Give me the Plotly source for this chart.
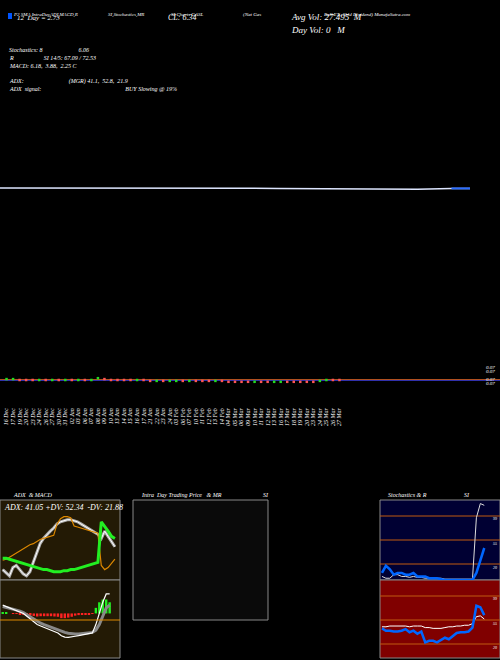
import plotly.graph_objects as go

dates = ["16 Dec", "17 Dec", "19 Dec", "20 Dec", "23 Dec", "24 Dec", "26 Dec", "27 Dec", "30 Dec", "31 Dec",
         "02 Jan", "03 Jan", "06 Jan", "07 Jan", "08 Jan", "09 Jan", "10 Jan", "13 Jan", "14 Jan", "15 Jan",
         "16 Jan", "17 Jan", "21 Jan", "22 Jan", "23 Jan", "24 Jan", "03 Feb", "06 Feb", "07 Feb", "10 Feb",
         "11 Feb", "12 Feb", "13 Feb", "14 Feb", "04 Mar", "05 Mar", "06 Mar", "09 Mar", "10 Mar", "11 Mar",
         "12 Mar", "13 Mar", "16 Mar", "17 Mar", "18 Mar", "19 Mar", "20 Mar", "23 Mar", "24 Mar", "25 Mar",
         "26 Mar", "27 Mar"]
close = [0.0702, 0.0702, 0.0701, 0.0701, 0.0701, 0.0701, 0.0701, 0.0701, 0.0701, 0.0701,
         0.0701, 0.0701, 0.0701, 0.0701, 0.0703, 0.0702, 0.0701, 0.0701, 0.0701, 0.0701,
         0.0701, 0.0701, 0.0700, 0.0700, 0.0700, 0.0700, 0.0700, 0.0700, 0.0700, 0.0700,
         0.0700, 0.0700, 0.0700, 0.0700, 0.0699, 0.0699, 0.0699, 0.0699, 0.0699, 0.0699,
         0.0699, 0.0699, 0.0699, 0.0699, 0.0699, 0.0699, 0.0699, 0.0699, 0.0700, 0.0701,
         0.0701, 0.0701]
up = [1, 1, 0, 0, 0, 1, 0, 1, 0, 1, 0, 1, 0, 1, 1, 0, 0, 0, 0, 0, 1, 0, 0, 1, 0, 1,
      1, 0, 1, 0, 0, 0, 1, 0, 0, 0, 0, 0, 1, 0, 0, 1, 1, 0, 0, 0, 0, 0, 1, 1, 0, 0]
# long-term average line across the top
sma_x = [-1, 6.5, 14, 21.5, 29, 36.5, 44, 51.5, 59, 66.5, 72, 75]
sma_top = [1.0, 1.0, 1.0, 1.0, 1.0, 1.0, 0.995, 0.99, 0.985, 0.985, 0.995, 0.995]

adx = [19, 19, 18, 17, 16, 15, 14, 13, 12, 11, 10, 9, 8, 8, 7, 6, 6, 6, 7, 7, 8, 8, 9, 10, 11, 12, 13, 14, 15, 54, 50, 45, 40, 38]
pdi = [17, 18, 20, 22, 24, 26, 28, 30, 32, 33, 35, 37, 38, 39, 40, 41, 52, 57, 59, 59, 58, 50, 49, 48, 47, 46, 45, 44, 43, 12, 8, 10, 14, 18]
mdi = [8, 5, 2, 10, 12, 8, 4, 2, 6, 15, 25, 33, 38, 42, 45, 48, 52, 54, 55, 56, 56, 55, 54, 52, 50, 48, 46, 44, 42, 38, 45, 40, 35, 30]
macd = [3, 2.5, 2, 1.5, 1, 0.5, 0, -1, -2, -3, -4, -4.5, -5, -5.5, -6, -6.5, -7, -8, -8.5, -8.6, -8.5, -8.2, -8, -7.8, -7.6, -7.4, -7, -4, 0, 4, 7, 7]
sig = [2.5, 2.2, 2, 1.6, 1.2, 0.8, 0.3, -0.5, -1.3, -2.1, -2.9, -3.5, -4, -4.5, -5, -5.4, -5.8, -6.3, -6.8, -7.1, -7.3, -7.4, -7.4, -7.3, -7.2, -7, -6.8, -6, -4, -1, 2, 3]
rsi = [38, 35, 35, 34, 34, 35, 37, 33, 35, 31, 34, 20, 22, 22, 20, 23, 26, 24, 28, 32, 33, 33, 34, 39, 67, 65, 55]
rsi_avg = [40, 40, 41, 41, 41, 41, 41, 40, 41, 41, 41, 39, 39, 38, 38, 38, 39, 40, 40, 41, 41, 42, 42, 44, 53, 54, 50]
stoch_k = [18, 26, 22, 16, 18, 18, 16, 16, 18, 14, 14, 14, 12, 12, 12, 11, 10, 10, 10, 10, 10, 10, 10, 10, 18, 32, 46]
stoch_d = [14, 12, 12, 16, 16, 14, 14, 13, 14, 13, 13, 12, 12, 12, 12, 12, 11, 11, 11, 11, 11, 11, 11, 11, 80, 96, 94]

W, H = 500, 660
def px_x(a, b): return [a / W, b / W]
def px_y(top, bot): return [1 - bot / H, 1 - top / H]

fig = go.Figure()
font = "Liberation Serif"

# main price strip
fig.add_trace(go.Scatter(x=dates, y=close, mode="markers",
                         marker=dict(symbol="square", size=2.5, line_width=0,
                                     color=["#22dd22" if u else "#ff5555" for u in up]),
                         xaxis="x", yaxis="y", showlegend=False))
fig.add_trace(go.Scatter(x=sma_x, y=sma_top, mode="lines", line=dict(color="#dde6ff", width=1.5),
                         xaxis="x2", yaxis="y2", showlegend=False))
fig.add_trace(go.Scatter(x=sma_x[-2:], y=sma_top[-2:], mode="lines", line=dict(color="#2a6cff", width=2),
                         xaxis="x2", yaxis="y2", showlegend=False))

# ADX
xi = list(range(len(adx)))
for s, c, w in [(mdi, "#aaaaaa", 3), (mdi, "white", 1), (pdi, "#dd8800", 1.2), (adx, "#22ee22", 3)]:
    fig.add_trace(go.Scatter(x=xi, y=s, mode="lines", line=dict(color=c, width=w),
                             xaxis="x3", yaxis="y3", showlegend=False))
# MACD
mi = list(range(len(macd)))
hist = [m - s for m, s in zip(macd, sig)]
fig.add_trace(go.Bar(x=mi, y=hist, marker_color=["#22ee22" if h > 0 else "#ff2222" for h in hist],
                     marker_line_width=0, xaxis="x4", yaxis="y4", showlegend=False))
fig.add_trace(go.Scatter(x=mi, y=sig, mode="lines", line=dict(color="#888888", width=3),
                         xaxis="x4", yaxis="y4", showlegend=False))
fig.add_trace(go.Scatter(x=mi, y=macd, mode="lines", line=dict(color="white", width=1.2),
                         xaxis="x4", yaxis="y4", showlegend=False))
# Stochastics
si = list(range(len(stoch_d)))
fig.add_trace(go.Scatter(x=si, y=stoch_d, mode="lines", line=dict(color="#dddddd", width=1),
                         xaxis="x5", yaxis="y5", showlegend=False))
fig.add_trace(go.Scatter(x=si, y=stoch_k, mode="lines", line=dict(color="#0066ff", width=2.5),
                         xaxis="x5", yaxis="y5", showlegend=False))
# RSI
ri = list(range(len(rsi)))
fig.add_trace(go.Scatter(x=ri, y=rsi_avg, mode="lines", line=dict(color="white", width=1),
                         xaxis="x6", yaxis="y6", showlegend=False))
fig.add_trace(go.Scatter(x=ri, y=rsi, mode="lines", line=dict(color="#0066ff", width=2.5),
                         xaxis="x6", yaxis="y6", showlegend=False))

noax = dict(showgrid=False, zeroline=False, showticklabels=False, showline=False)
fig.update_layout(
    width=W, height=H, paper_bgcolor="black", plot_bgcolor="rgba(0,0,0,0)",
    margin=dict(l=0, r=0, t=0, b=0), bargap=0.3,
    xaxis=dict(domain=px_x(0, 470), tickangle=-90, tickfont=dict(family=font, size=6, color="white"),
               tickmode="array", tickvals=dates, ticktext=[f"<i>{d}</i>" for d in dates],
               showgrid=False, showline=False, zeroline=False, range=[-1, 71], anchor="free",
               position=1 - 406 / H, side="bottom", ticks=""),
    yaxis=dict(domain=px_y(370, 390), **noax, range=[0.0690, 0.0712]),
    xaxis2=dict(domain=px_x(0, 470), **noax, range=[-1, 75], anchor="y2"),
    yaxis2=dict(domain=px_y(180, 196), **noax, range=[0.9, 1.1]),
    xaxis3=dict(domain=px_x(1, 120), **noax, range=[-0.5, 34.5], anchor="y3"),
    yaxis3=dict(domain=px_y(500, 580), **noax, range=[-2, 75], anchor="x3"),
    xaxis4=dict(domain=px_x(1, 120), **noax, range=[-0.5, 34], anchor="y4"),
    yaxis4=dict(domain=px_y(580, 658), **noax, range=[-16, 12], anchor="x4"),
    xaxis5=dict(domain=px_x(380, 500), **noax, range=[-0.5, 30], anchor="y5"),
    yaxis5=dict(domain=px_y(500, 580), **noax, range=[10, 100], anchor="x5"),
    xaxis6=dict(domain=px_x(380, 500), **noax, range=[-0.5, 30], anchor="y6"),
    yaxis6=dict(domain=px_y(580, 658), **noax, range=[0, 100], anchor="x6"),
)

shapes = []
for (x0, y0, x1, y1, c) in [(0, 500, 120, 580, "#231a05"), (0, 580, 120, 658, "#231a05"),
                            (133, 500, 268, 620, "#0a0a0a"),
                            (380, 500, 500, 580, "#000033"), (380, 580, 500, 658, "#800000")]:
    shapes.append(dict(type="rect", xref="paper", yref="paper", x0=x0 / W, x1=x1 / W,
                       y0=1 - y1 / H, y1=1 - y0 / H, fillcolor=c, line=dict(color="#888888", width=1),
                       layer="below"))
shapes.append(dict(type="line", xref="paper", yref="paper", x0=0, x1=1, y0=1 - 379.5 / H, y1=1 - 379.5 / H,
                   line=dict(color="#b05020", width=1), layer="below"))
shapes.append(dict(type="line", xref="paper", yref="paper", x0=0, x1=1, y0=1 - 380.5 / H, y1=1 - 380.5 / H,
                   line=dict(color="#3030aa", width=1), layer="below"))
shapes.append(dict(type="line", xref="paper", yref="paper", x0=0, x1=120 / W, y0=1 - 620 / H, y1=1 - 620 / H,
                   line=dict(color="#dd8800", width=1)))
for yv in [516, 540, 564, 596, 620, 644]:
    shapes.append(dict(type="line", xref="paper", yref="paper", x0=380 / W, x1=1, y0=1 - yv / H, y1=1 - yv / H,
                       line=dict(color="#c05a10", width=1), layer="below"))
shapes.append(dict(type="rect", xref="paper", yref="paper", x0=8 / W, x1=12 / W, y0=1 - 19 / H, y1=1 - 13 / H,
                   fillcolor="#0055ff", line_width=0))
fig.update_layout(shapes=shapes)

ann = [
    (12, 11, "P2 SMA IntraDayADLMACD,R", 5, "left"), (107, 11, "SI,Stochastics,MR", 5, "left"),
    (170, 11, "SI Charts GASL", 5, "left"), (242, 11, "(Nat Gas", 5, "left"),
    (323, 11, "Bull ET...Shld Dividend) MunafaSutra.com", 5, "left"),
    (16, 13, "12  Day = 2.73", 7, "left"), (167, 12, "CL: 6.34", 8, "left"), (290, 11, "Avg Vol: 27.495  M", 9, "left"),
    (290, 24, "Day Vol: 0   M", 9, "left"),
    (8, 46, "Stochastics: 8                        6.06", 6, "left"),
    (8, 54, "R                    SI 14/5: 67.09 / 72.53", 6, "left"),
    (8, 62, "MACD: 6.18,  3.88,  2.25 C", 6, "left"),
    (8, 77, "ADX:                              (MGR) 41.1,  52.8,  21.9", 6, "left"),
    (8, 85, "ADX  signal:                                                        BUY Slowing @ 19%", 6, "left"),
    (12, 491, "ADX  & MACD", 6, "left"), (140, 491, "Intra  Day Trading Price   & MR", 6, "left"),
    (262, 491, "SI", 6, "left"), (387, 491, "Stochastics & R", 6, "left"), (463, 491, "SI", 6, "left"),
    (3, 502, "ADX: 41.05 +DV: 52.34  -DV: 21.88", 8, "left"),
    (496, 376, "0.07", 5, "right"), (496, 380, "0.07", 5, "right"), (496, 368, "0.07", 5, "right"),
    (496, 364, "0.07", 5, "right"),
    (498, 515, "99", 4, "right"), (498, 540, "55", 4, "right"), (498, 564, "20", 4, "right"),
    (498, 595, "99", 4, "right"), (498, 620, "55", 4, "right"), (498, 644, "20", 4, "right"),
]
for x, y, t, s, xa in ann:
    fig.add_annotation(x=x / W, y=1 - y / H, xref="paper", yref="paper", text=f"<i>{t}</i>", showarrow=False,
                       xanchor=xa, yanchor="top", font=dict(family=font, size=s, color="white"), borderpad=0)

fig.write_html("out.html", config={"displayModeBar": False},
               post_script="document.body.style.margin='0';")
